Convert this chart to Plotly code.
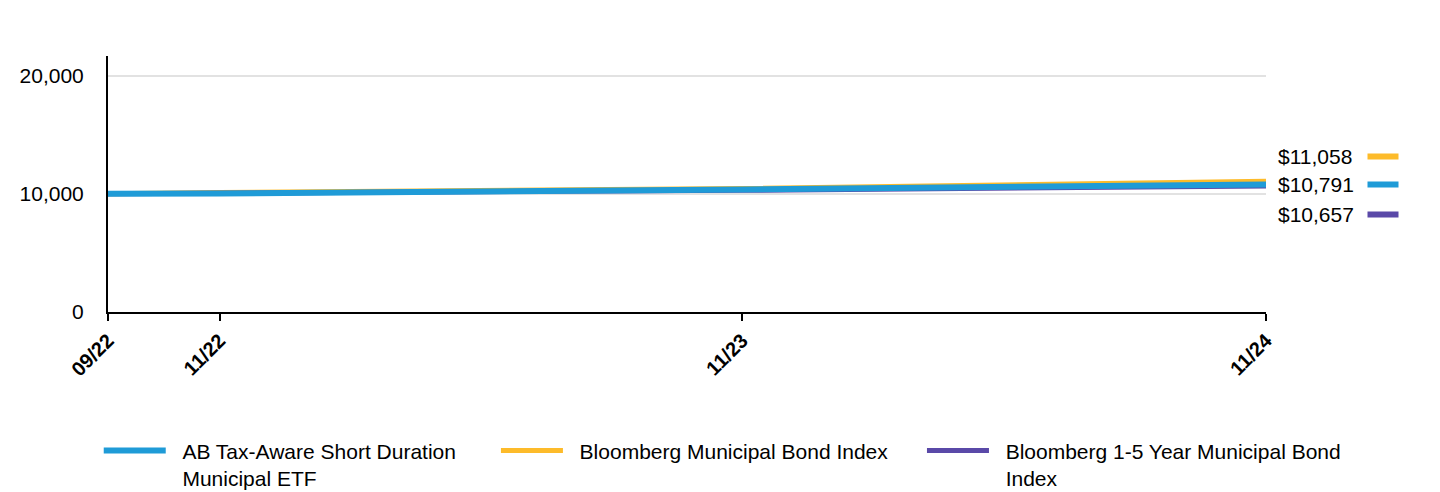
import plotly.graph_objects as go

dates = ["2022-09-13", "2022-11-30", "2023-11-30", "2024-11-30"]
tick_dates = ["2022-09-13", "2022-11-30", "2023-11-30", "2024-11-30"]
tick_labels = ["09/22", "11/22", "11/23", "11/24"]

NB = "\u00a0"
fund_name = NB * 2 + "AB Tax-Aware Short Duration" + NB * 6 + "<br>" + NB * 2 + "Municipal ETF"
muni_name = NB * 2 + "Bloomberg Municipal Bond Index" + NB * 5
short_name = NB * 2 + "Bloomberg 1-5 Year Municipal Bond<br>" + NB * 2 + "Index"

fund_vals = [10000, 10030, 10360, 10791]
muni_vals = [10000, 10110, 10440, 11058]
short_vals = [10000, 10040, 10290, 10657]

end_labels = ["$11,058", "$10,791", "$10,657"]

c_fund = "#1f9bd7"
c_muni = "#fdbb2a"
c_short = "#5a49a8"

FONT = "Liberation Sans, Arial, sans-serif"

fig = go.Figure()
fig.add_trace(go.Scatter(x=dates, y=muni_vals, name=muni_name, mode="lines",
                         line=dict(color=c_muni, width=5), legendrank=2))
fig.add_trace(go.Scatter(x=dates, y=short_vals, name=short_name, mode="lines",
                         line=dict(color=c_short, width=5), legendrank=3))
fig.add_trace(go.Scatter(x=dates, y=fund_vals, name=fund_name, mode="lines",
                         line=dict(color=c_fund, width=6), legendrank=1))

# End-value labels with colour dashes (label offsets spread for legibility)
label_specs = [
    (muni_vals[-1], end_labels[0], c_muni, 25),
    (fund_vals[-1], end_labels[1], c_fund, 0),
    (short_vals[-1], end_labels[2], c_short, -29),
]
for val, txt, col, shift in label_specs:
    fig.add_annotation(x=dates[-1], y=val, xref="x", yref="y", text=txt,
                       showarrow=False, xanchor="left", yanchor="middle",
                       xshift=10, yshift=shift,
                       font=dict(family=FONT, size=21, color="#000000"))
    fig.add_annotation(x=dates[-1], y=val, xref="x", yref="y", text=" ",
                       showarrow=False, xanchor="left", yanchor="middle",
                       xshift=101, yshift=shift, width=30, height=5,
                       bgcolor=col, borderpad=0, font=dict(size=4))

fig.update_layout(
    width=1440, height=492,
    margin=dict(l=108, r=174, t=56, b=180, autoexpand=False),
    paper_bgcolor="white", plot_bgcolor="white",
    font=dict(family=FONT, size=21, color="#000000"),
    showlegend=True,
    legend=dict(orientation="h", x=-0.008, xanchor="left", y=-0.462, yanchor="top",
                valign="top", itemwidth=62, font=dict(family=FONT, size=21),
                traceorder="normal"),
)
fig.update_xaxes(
    type="date", range=[dates[0], dates[-1]], automargin=False,
    tickvals=tick_dates, ticktext=tick_labels, tickangle=-45,
    tickfont=dict(family=FONT, size=20, color="#000000", weight="bold"),
    showline=True, linecolor="#000000", linewidth=2,
    ticks="outside", ticklen=7, tickwidth=2, tickcolor="#000000",
    showgrid=False, zeroline=False,
)
fig.update_yaxes(
    range=[0, 21650], tickvals=[0, 10000, 20000], tickformat=",",
    automargin=False,
    tickfont=dict(family=FONT, size=21, color="#000000"),
    showline=True, linecolor="#000000", linewidth=2,
    ticks="", ticklabelstandoff=18,
    showgrid=True, gridcolor="#e2e2e2", gridwidth=2, zeroline=False,
)

fig.write_html("out.html")
